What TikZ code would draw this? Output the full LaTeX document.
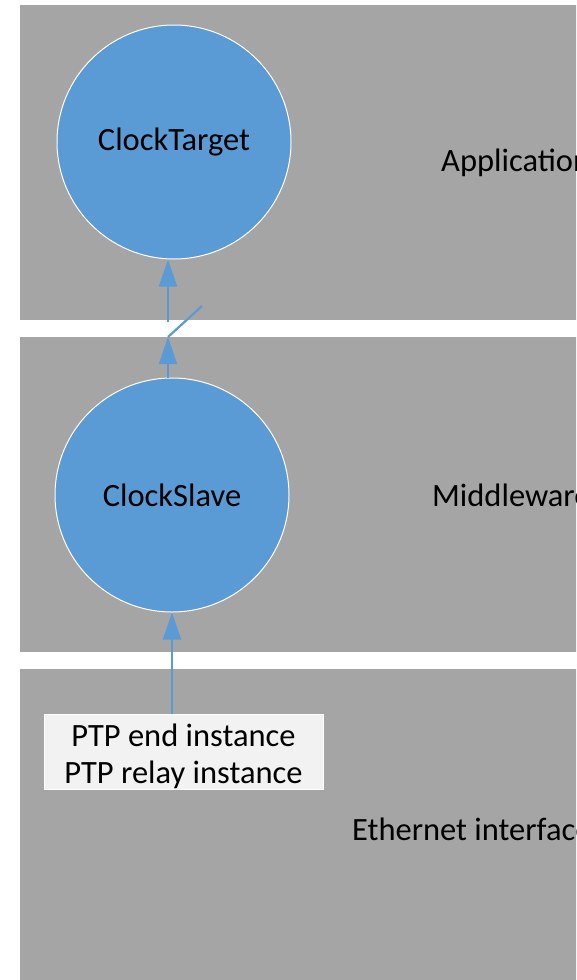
\documentclass[tikz,border=0pt]{standalone}
\usepackage{fontspec}
\setmainfont{Carlito}
\usetikzlibrary{arrows.meta}
\definecolor{bandgray}{HTML}{A5A5A5}
\definecolor{circblue}{HTML}{5B9BD5}
\definecolor{boxfill}{HTML}{F2F2F2}
\begin{document}
\begin{tikzpicture}[x=1pt,y=-1pt,
  band/.style={fill=bandgray,draw=none},
  circ/.style={circle,fill=circblue,draw=white,line width=1pt,minimum size=234pt,inner sep=0pt,font=\fontsize{32.5}{38}\selectfont},
  lbl/.style={anchor=west,font=\fontsize{32.5}{38}\selectfont,inner sep=0pt},
  arr/.style={draw=circblue,line width=2.2pt,-{Triangle[length=27pt,width=18pt]}},
  conn/.style={draw=circblue,line width=2.2pt}]
\useasboundingbox (0,0) rectangle (576,980);
\clip (0,0) rectangle (576,980);
\fill[band] (20,5) rectangle (700,320);
\fill[band] (20,337) rectangle (700,652);
\fill[band] (20,669) rectangle (700,990);
\node[circ] (ct) at (174,142) {ClockTarget};
\node[circ] (cs) at (172,495) {ClockSlave};
\node[lbl] (app) at (441,163) {Application};
\node[lbl] (mid) at (432,495) {Middleware};
\node[lbl] (eth) at (352,829) {Ethernet interface};
\node[draw=white,fill=boxfill,line width=0.8pt,minimum width=279pt,minimum height=72pt,inner sep=0pt,align=center,font=\fontsize{32.5}{37}\selectfont] (ptp) at (183.5,752) {\rule{0pt}{32pt}PTP end instance\\PTP relay instance};
\coordinate (g1) at (168,322);
\coordinate (g2) at (168,337);
\coordinate (g3) at (202,306);
\draw[arr] (g1) -- (g1 |- ct.south);
\draw[arr] (g2 |- cs.north) -- (g2);
\draw[conn] (g2) -- (g3);
\draw[arr] (ptp.north -| cs.south) -- (cs.south);
\end{tikzpicture}
\end{document}
